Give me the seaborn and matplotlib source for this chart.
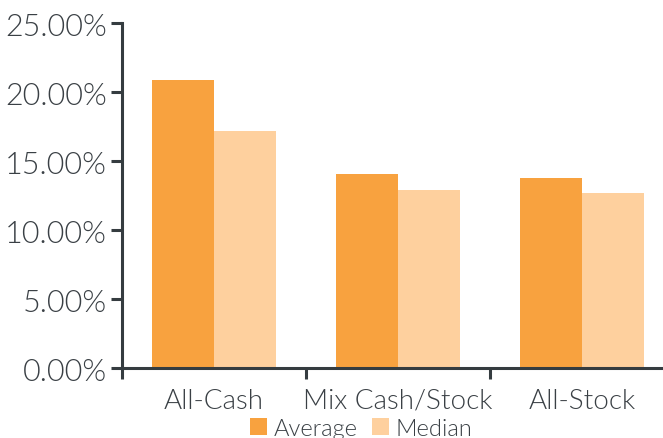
import numpy as np
import pandas as pd
import matplotlib
matplotlib.use("Agg")
import matplotlib.pyplot as plt
from matplotlib.ticker import PercentFormatter, FixedLocator, NullFormatter
import seaborn as sns

categories = ["All-Cash", "Mix Cash/Stock", "All-Stock"]
average = [20.9, 14.1, 13.8]
median = [17.2, 12.9, 12.7]
series = ["Average", "Median"]
colors = ["#F8A23F", "#FED09E"]

df = pd.DataFrame({
    "deal": categories * 2,
    "value": average + median,
    "stat": [series[0]] * 3 + [series[1]] * 3,
})

sns.set_style("white")
plt.rcParams["font.family"] = ["Lato", "DejaVu Sans"]
plt.rcParams["font.weight"] = 300
txt = "#3a4045"

fig = plt.figure(figsize=(6.63, 4.39), dpi=100)
ax = fig.add_axes([0.184, 0.159, 0.816, 0.786])

sns.barplot(data=df, x="deal", y="value", hue="stat", palette=colors,
            width=0.67, saturation=1, linewidth=0, ax=ax, legend=True)

ax.set_ylim(0, 25)
ax.set_xlim(-0.5, 2.44)
ax.yaxis.set_major_formatter(PercentFormatter(xmax=100, decimals=2))
ax.set_yticks([0, 5, 10, 15, 20, 25])

# ticks between the groups, labels at the group centres
ax.xaxis.set_major_locator(FixedLocator([-0.5, 0.5, 1.5]))
ax.xaxis.set_major_formatter(NullFormatter())
ax.xaxis.set_minor_locator(FixedLocator([0, 1, 2]))
ax.set_xticklabels(categories, minor=True)
ax.tick_params(axis="x", which="minor", length=0, pad=14, labelsize=20, labelcolor=txt)
ax.tick_params(axis="x", which="major", direction="out", length=8, width=2.2, color="#353c40", bottom=True)
ax.tick_params(axis="y", direction="out", length=8, width=2.2, color="#353c40", left=True,
               labelsize=22, labelcolor=txt, pad=3)

for side in ["top", "right"]:
    ax.spines[side].set_visible(False)
for side in ["left", "bottom"]:
    ax.spines[side].set_color("#353c40")
    ax.spines[side].set_linewidth(2.2)

ax.set_xlabel("")
ax.set_ylabel("")

handles, labels = ax.get_legend_handles_labels()
ax.get_legend().remove()
fig.legend(handles, labels, loc="center", bbox_to_anchor=(0.545, 0.022), ncol=2,
           frameon=False, handlelength=0.7, handleheight=0.7, handletextpad=0.3,
           columnspacing=0.6, fontsize=17, labelcolor=txt)

fig.savefig("out.png", dpi=100)
